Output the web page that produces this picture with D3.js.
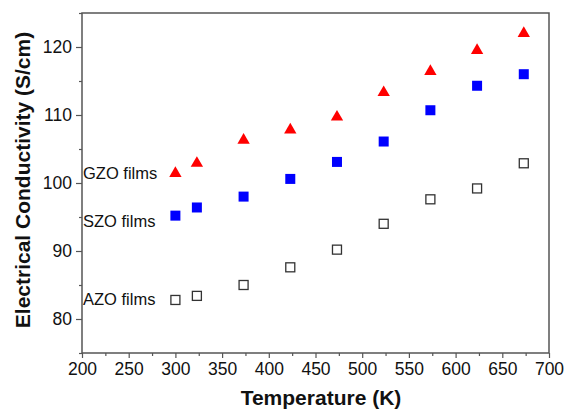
<!DOCTYPE html>
<html><head><meta charset="utf-8">
<script src="https://cdn.jsdelivr.net/npm/d3@7"></script>
<style>body{margin:0;background:#fff}svg{display:block}</style>
</head><body>
<svg id="c" width="568" height="410"></svg>
<script>
const temperatures = [300, 323, 373, 423, 473, 523, 573, 623, 673];
const gzo = [101.4, 102.9, 106.3, 107.8, 109.7, 113.3, 116.4, 119.5, 122.0];
const szo = [95.2, 96.4, 98.0, 100.6, 103.1, 106.1, 110.7, 114.3, 116.0];
const azo = [82.8, 83.4, 85.0, 87.6, 90.2, 94.0, 97.6, 99.2, 102.9];
const xTicks = [200, 250, 300, 350, 400, 450, 500, 550, 600, 650, 700];
const yTicks = [80, 90, 100, 110, 120];
const seriesLabels = [["GZO films", 101.4], ["SZO films", 94.3], ["AZO films", 82.8]];

const svg = d3.select("#c");
const L = 82, R = 549, T = 13, B = 353;
const x = d3.scaleLinear().domain([200, 700]).range([L, R]);
const y = d3.scaleLinear().domain([75, 125]).range([B, T]);
const axisColor = "#555";
const font = "Arial, 'Liberation Sans', sans-serif";

// frame
svg.append("rect").attr("x", L).attr("y", T).attr("width", R - L).attr("height", B - T)
  .attr("fill", "none").attr("stroke", axisColor).attr("stroke-width", 1.5);

// x axis
const xa = svg.append("g").attr("transform", `translate(0,${B})`)
  .call(d3.axisBottom(x).tickValues(xTicks).tickSize(5).tickSizeOuter(0).tickPadding(5));
svg.append("g").attr("transform", `translate(0,${B})`)
  .call(d3.axisBottom(x).tickValues(d3.range(225, 700, 50)).tickSize(3).tickFormat("").tickSizeOuter(0))
  .call(g => g.select(".domain").remove())
  .selectAll("line").attr("stroke", axisColor).attr("stroke-width", 1.2);
xa.select(".domain").remove();
xa.selectAll("line").attr("stroke", axisColor).attr("stroke-width", 1.2);
xa.selectAll("text").attr("font-family", font).attr("font-size", 17.5).attr("fill", "#111");

// y axis
const ya = svg.append("g").attr("transform", `translate(${L},0)`)
  .call(d3.axisLeft(y).tickValues(yTicks).tickSize(6).tickSizeOuter(0).tickPadding(4));
svg.append("g").attr("transform", `translate(${L},0)`)
  .call(d3.axisLeft(y).tickValues([75, 85, 95, 105, 115, 125]).tickSize(3).tickFormat("").tickSizeOuter(0))
  .call(g => g.select(".domain").remove())
  .selectAll("line").attr("stroke", axisColor).attr("stroke-width", 1.2);
ya.select(".domain").remove();
ya.selectAll("line").attr("stroke", axisColor).attr("stroke-width", 1.2);
ya.selectAll("text").attr("font-family", font).attr("font-size", 17.5).attr("fill", "#111");

// titles
svg.append("text").attr("x", 321).attr("y", 405).attr("text-anchor", "middle")
  .attr("font-family", font).attr("font-weight", "bold").attr("font-size", 21).attr("fill", "#111")
  .text("Temperature (K)");
svg.append("text").attr("transform", `translate(30,180) rotate(-90)`).attr("text-anchor", "middle")
  .attr("font-family", font).attr("font-weight", "bold").attr("font-size", 21).attr("fill", "#111")
  .text("Electrical Conductivity (S/cm)");

// markers
const pts = (vals) => temperatures.map((t, i) => [t, vals[i]]);
svg.append("g").selectAll("path").data(pts(gzo)).join("path")
  .attr("d", d3.symbol(d3.symbolTriangle, 66)())
  .attr("transform", d => `translate(${x(d[0])},${y(d[1])})`)
  .attr("fill", "#ff0000");
svg.append("g").selectAll("rect").data(pts(szo)).join("rect")
  .attr("x", d => x(d[0]) - 5).attr("y", d => y(d[1]) - 5).attr("width", 10).attr("height", 10)
  .attr("fill", "#0000ff");
svg.append("g").selectAll("rect").data(pts(azo)).join("rect")
  .attr("x", d => x(d[0]) - 4.5).attr("y", d => y(d[1]) - 4.5).attr("width", 9).attr("height", 9)
  .attr("fill", "none").attr("stroke", "#333").attr("stroke-width", 1.3);

// series labels
svg.append("g").selectAll("text").data(seriesLabels).join("text")
  .attr("x", 83).attr("y", d => y(d[1]) + 5.5)
  .attr("font-family", font).attr("font-size", 16.5).attr("fill", "#111")
  .text(d => d[0]);
</script>
</body></html>
